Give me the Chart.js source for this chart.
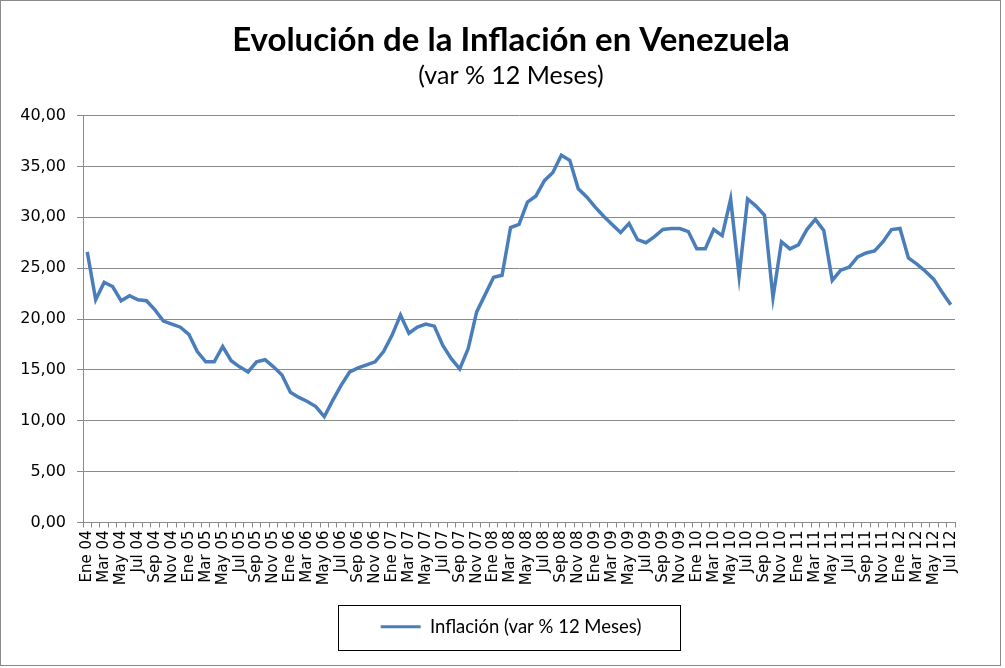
<!DOCTYPE html>
<html>
<head>
<meta charset="utf-8">
<script src="https://cdn.jsdelivr.net/npm/chart.js@4/dist/chart.umd.min.js"></script>
<style>
  html, body { margin: 0; padding: 0; background: #fff; }
  #wrap { width: 1005px; height: 668px; }
</style>
</head>
<body>
<div id="wrap"><canvas id="chart" width="1005" height="668"></canvas></div>
<script>
// Datos - Inflación Venezuela (var % 12 meses), Ene 04 a Jul 12
const meses = ['Ene', 'Feb', 'Mar', 'Abr', 'May', 'Jun', 'Jul', 'Ago', 'Sep', 'Oct', 'Nov', 'Dic'];
const anios = ['04', '05', '06', '07', '08', '09', '10', '11', '12'];
const ultimoMes = 7; // Jul 12

const inflacion = [
    26.6, 21.9, 23.6, 23.2, 21.8, 22.3, 21.9, 21.8, 20.9, 19.8, 19.5, 19.2,
    18.5, 16.8, 15.8, 15.8, 17.3, 15.9, 15.3, 14.8, 15.8, 16.0, 15.3, 14.5,
    12.8, 12.3, 11.9, 11.4, 10.4, 12.0, 13.5, 14.8, 15.2, 15.5, 15.8, 16.8,
    18.4, 20.4, 18.6, 19.2, 19.5, 19.3, 17.4, 16.1, 15.1, 17.1, 20.7, 22.4,
    24.1, 24.3, 29.0, 29.3, 31.5, 32.1, 33.6, 34.4, 36.1, 35.6, 32.8, 32.0,
    31.0, 30.1, 29.3, 28.5, 29.4, 27.8, 27.5, 28.1, 28.8, 28.9, 28.9, 28.6,
    26.9, 26.9, 28.8, 28.2, 31.8, 24.2, 31.8, 31.1, 30.2, 22.1, 27.6, 26.9,
    27.3, 28.8, 29.8, 28.7, 23.8, 24.8, 25.1, 26.1, 26.5, 26.7, 27.6, 28.8,
    28.9, 26.0, 25.4, 24.7, 23.9, 22.6, 21.4
];

const ejeY = { min: 0, max: 40, paso: 5 };

// etiquetas de categoría (Ene 04 ... Jul 12)
const etiquetas = [];
anios.forEach((a, i) => {
    const n = i === anios.length - 1 ? ultimoMes : 12;
    for (let m = 0; m < n; m++) etiquetas.push(meses[m] + ' ' + a);
});

const azul = '#4a7ebb';
const gris = '#8a8a8a';

// marco exterior y caja de la leyenda
const marcos = {
    id: 'marcos',
    afterDraw(chart) {
        const ctx = chart.ctx;
        ctx.save();
        ctx.strokeStyle = gris;
        ctx.lineWidth = 1;
        ctx.strokeRect(0.5, 0.5, 1000, 665);
        const hb = chart.legend.legendHitBoxes[0];
        if (hb) {
            const cy = hb.top + hb.height / 2;
            ctx.strokeStyle = '#000';
            ctx.strokeRect(Math.round(hb.left - 43) + 0.5, Math.round(cy - 22) + 0.5,
                Math.round(hb.width + 81), 45);
        }
        ctx.restore();
    }
};

const chart = document.querySelector('#chart').getContext('2d');

new Chart(chart, {
    type: 'line',
    data: {
        labels: etiquetas,
        datasets: [
        {
            label: 'Inflación (var % 12 Meses)',
            data: inflacion,
            borderColor: azul,
            backgroundColor: azul,
            borderWidth: 3.5,
            pointRadius: 0,
            tension: 0,
            fill: false
        }
        ]
    },
    options: {
        responsive: false,
        animation: false,
        layout: { padding: { left: 17, right: 0, top: 0, bottom: 22 } },
        plugins: {
            tooltip: { enabled: false },
            title: {
                display: true,
                text: 'Evolución de la Inflación en Venezuela',
                color: '#000',
                font: { family: 'Lato', size: 33, weight: 'bold' },
                padding: { top: 21, bottom: 0 }
            },
            subtitle: {
                display: true,
                text: '(var % 12 Meses)',
                color: '#000',
                font: { family: 'Lato', size: 25 },
                padding: { top: 0, bottom: 25 }
            },
            legend: {
                position: 'bottom',
                labels: {
                    color: '#000',
                    font: { family: 'Lato', size: 18.5 },
                    boxWidth: 40,
                    boxHeight: 3,
                    padding: 9,
                    generateLabels: (c) => [{
                        text: c.data.datasets[0].label,
                        fillStyle: azul,
                        strokeStyle: azul,
                        lineWidth: 0,
                        hidden: false,
                        datasetIndex: 0
                    }]
                }
            }
        },
        scales: {
            x: {
                offset: true,
                afterFit: (s) => { s.height = 86; },
                grid: { drawOnChartArea: false, drawTicks: true, tickLength: 5, color: gris, offset: true },
                border: { color: gris },
                ticks: {
                    autoSkip: false,
                    maxRotation: 90,
                    minRotation: 90,
                    padding: 3,
                    color: '#000',
                    font: { family: 'DejaVu Sans', size: 15 },
                    callback: (v, i) => (i % 2 === 0 ? etiquetas[i] : '')
                }
            },
            y: {
                min: ejeY.min,
                max: ejeY.max,
                afterFit: (s) => { s.width = 66; },
                grid: { color: gris, lineWidth: 1, tickLength: 6 },
                border: { color: gris },
                ticks: {
                    stepSize: ejeY.paso,
                    padding: 11,
                    color: '#000',
                    font: { family: 'DejaVu Sans', size: 16 },
                    callback: (v) => v.toFixed(2).replace('.', ',')
                }
            },
            // espacio a la derecha del área de trazado
            derecha: {
                position: 'right',
                afterFit: (s) => { s.width = 50; },
                grid: { display: false },
                border: { display: false },
                ticks: { display: false }
            }
        }
    },
    plugins: [marcos]
})
</script>
</body>
</html>
